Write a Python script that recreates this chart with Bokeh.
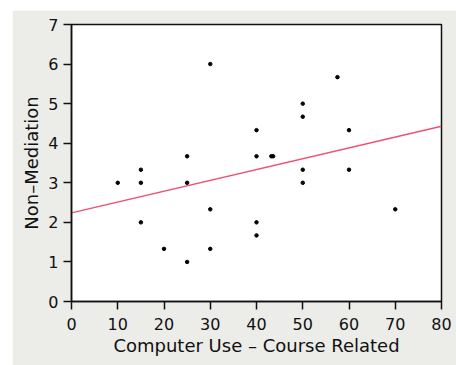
from bokeh.plotting import figure
from bokeh.models import Range1d, FixedTicker
from bokeh.embed import file_html
from bokeh.resources import INLINE

# Data
computer_use = [10, 15, 15, 15, 20, 25, 25, 25, 30, 30, 30, 40, 40, 40, 40,
                43.2, 43.6, 50, 50, 50, 50, 57.5, 60, 60, 70]
non_mediation = [3.0, 3.33, 3.0, 2.0, 1.33, 3.67, 3.0, 1.0, 6.0, 2.33, 1.33,
                 4.33, 3.67, 2.0, 1.67, 3.67, 3.67, 5.0, 4.67, 3.33, 3.0,
                 5.67, 4.33, 3.33, 2.33]
fit_x = [0, 80]
fit_y = [2.24, 4.43]
x_ticks = [0, 10, 20, 30, 40, 50, 60, 70, 80]
y_ticks = [0, 1, 2, 3, 4, 5, 6, 7]

FONT = "DejaVu Sans"
PANEL = "#ECECE8"

p = figure(width=444, height=355,
           x_range=Range1d(0, 80), y_range=Range1d(0, 7),
           output_backend="svg", toolbar_location=None,
           min_border_left=59, min_border_top=14,
           min_border_right=15, min_border_bottom=64)
p.margin = (10, 0, 0, 12)

p.background_fill_color = "white"
p.border_fill_color = PANEL
p.outline_line_color = "#111111"
p.outline_line_width = 1.5
p.xgrid.visible = False
p.ygrid.visible = False

p.line(fit_x, fit_y, line_color="#F0506E", line_width=1.5)
p.scatter(computer_use, non_mediation, size=3.5, color="black")

for ax in (p.xaxis[0], p.yaxis[0]):
    ax.major_label_text_font = FONT
    ax.major_label_text_font_size = "16px"
    ax.major_label_text_color = "#111111"
    ax.axis_label_text_font = FONT
    ax.axis_label_text_font_size = "18px"
    ax.axis_label_text_font_style = "normal"
    ax.axis_label_text_color = "#111111"
    ax.minor_tick_line_color = None
    ax.major_tick_in = 0
    ax.major_tick_out = 8
    ax.major_tick_line_color = "#111111"
    ax.major_tick_line_width = 1.5
    ax.axis_line_color = "#111111"
    ax.axis_line_width = 1.5

p.xaxis.major_label_standoff = 8
p.yaxis.major_label_standoff = 5
p.xaxis.axis_label_standoff = 2
p.yaxis.axis_label_standoff = 3
p.xaxis.ticker = FixedTicker(ticks=x_ticks)
p.yaxis.ticker = FixedTicker(ticks=y_ticks)
p.xaxis.axis_label = "Computer Use – Course Related"
p.yaxis.axis_label = "Non–Mediation"

open("out.html", "w").write(file_html(p, INLINE))
